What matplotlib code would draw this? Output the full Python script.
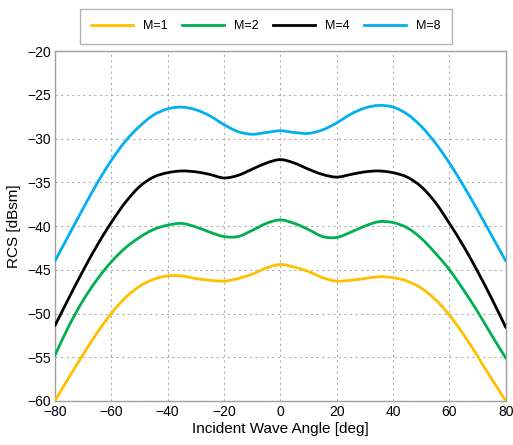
import matplotlib
matplotlib.use("Agg")
import matplotlib.pyplot as plt
from matplotlib.path import Path
from matplotlib.patches import PathPatch
from matplotlib.lines import Line2D
import numpy as np

plt.rcParams['font.family'] = ['Liberation Sans', 'DejaVu Sans']

angles = list(range(-80, 81, 5))

rcs_m1 = [-60.0, -57.3, -54.7, -52.2, -50.0, -48.2, -46.9, -46.1, -45.7, -45.7, -46.0,
          -46.2, -46.3, -46.0, -45.5, -44.8, -44.4, -44.7, -45.2, -45.9, -46.3, -46.2,
          -46.0, -45.8, -45.9, -46.3, -47.1, -48.4, -50.2, -52.4, -54.9, -57.5, -60.0]
rcs_m2 = [-54.8, -51.4, -48.5, -46.1, -44.1, -42.5, -41.3, -40.4, -39.9, -39.7, -40.1,
          -40.7, -41.2, -41.2, -40.5, -39.7, -39.3, -39.7, -40.4, -41.2, -41.3, -40.7,
          -40.0, -39.5, -39.6, -40.2, -41.4, -43.1, -45.0, -47.3, -49.8, -52.5, -55.1]
rcs_m4 = [-51.4, -48.2, -45.1, -42.2, -39.6, -37.3, -35.5, -34.4, -33.9, -33.7, -33.8,
          -34.1, -34.5, -34.2, -33.5, -32.8, -32.4, -32.8, -33.5, -34.1, -34.4, -34.1,
          -33.8, -33.7, -33.9, -34.4, -35.5, -37.3, -39.7, -42.3, -45.2, -48.3, -51.6]
rcs_m8 = [-44.0, -41.0, -38.0, -35.1, -32.5, -30.3, -28.6, -27.3, -26.6, -26.4, -26.7,
          -27.4, -28.4, -29.2, -29.5, -29.3, -29.1, -29.3, -29.4, -29.0, -28.2, -27.2,
          -26.5, -26.2, -26.4, -27.2, -28.6, -30.5, -32.8, -35.4, -38.2, -41.1, -44.0]

labels = ['M=1', 'M=2', 'M=4', 'M=8']
colors = ['#FFC000', '#00B050', '#000000', '#00B0F0']
series = [rcs_m1, rcs_m2, rcs_m4, rcs_m8]

xticks = list(range(-80, 81, 20))
yticks = list(range(-60, -19, 5))


def smooth_path(xs, ys):
    """Catmull-Rom curve through the data points, as cubic Bezier segments."""
    p = np.column_stack([xs, ys]).astype(float)
    n = len(p)
    verts = [p[0]]
    codes = [Path.MOVETO]
    for i in range(n - 1):
        p0 = p[i - 1] if i > 0 else p[i]
        p1 = p[i]
        p2 = p[i + 1]
        p3 = p[i + 2] if i + 2 < n else p[i + 1]
        c1 = p1 + (p2 - p0) / 6.0
        c2 = p2 - (p3 - p1) / 6.0
        verts += [c1, c2, p2]
        codes += [Path.CURVE4] * 3
    return Path(verts, codes)


fig = plt.figure(figsize=(5.13, 4.45), dpi=100)
ax = fig.add_axes([0.107, 0.099, 0.879, 0.786])

handles = []
for s, c, l in zip(series, colors, labels):
    patch = PathPatch(smooth_path(angles, s), facecolor='none', edgecolor=c,
                      lw=2.0, capstyle='round', joinstyle='round', zorder=3)
    ax.add_patch(patch)
    handles.append(Line2D([], [], color=c, lw=2.0, label=l))

ax.set_xlim(-80, 80)
ax.set_ylim(-60, -20)
ax.set_xticks(xticks)
ax.set_yticks(yticks)
ax.grid(True, color='#b0b0b0', linestyle=(0, (2, 3)), linewidth=0.8)
for sp in ax.spines.values():
    sp.set_color('#a0a0a0')
    sp.set_linewidth(1.0)
ax.tick_params(length=0, labelsize=10, pad=3)
ax.set_xlabel('Incident Wave Angle [deg]', fontsize=11, labelpad=2)
ax.set_ylabel('RCS [dBsm]', fontsize=11, labelpad=4)

leg = fig.legend(handles=handles, loc='center', bbox_to_anchor=(0.518, 0.941), ncol=4,
                 fontsize=9, frameon=True, fancybox=False, handlelength=3.4,
                 columnspacing=1.1, handletextpad=0.8, borderpad=0.9, borderaxespad=0)
leg.get_frame().set_edgecolor('#a0a0a0')
leg.get_frame().set_linewidth(1.0)

fig.savefig('out.png', dpi=100)
